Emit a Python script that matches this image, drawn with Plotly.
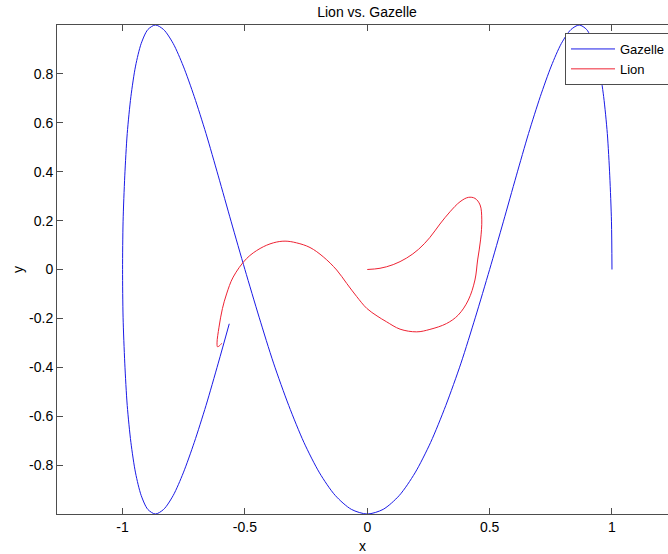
import plotly.graph_objects as go

# Gazelle path
gazelle_x = [1.0, 0.998, 0.991, 0.981, 0.966, 0.947, 0.924, 0.897, 0.866, 0.832, 0.793, 0.752,
             0.707, 0.659, 0.609, 0.556, 0.5, 0.442, 0.383, 0.321, 0.259, 0.195, 0.131, 0.065,
             0.0, -0.065, -0.131, -0.195, -0.259, -0.321, -0.383, -0.442, -0.5, -0.556,
             -0.609, -0.659, -0.707, -0.752, -0.793, -0.832, -0.866, -0.897, -0.924, -0.947,
             -0.966, -0.981, -0.991, -0.998, -1.0, -0.998, -0.991, -0.981, -0.966, -0.947,
             -0.924, -0.897, -0.866, -0.832, -0.793, -0.752, -0.707, -0.659, -0.609, -0.564]
gazelle_y = [0.0, 0.195, 0.383, 0.556, 0.707, 0.832, 0.924, 0.981, 1.0, 0.981, 0.924, 0.832,
             0.707, 0.556, 0.383, 0.195, 0.0, -0.195, -0.383, -0.556, -0.707, -0.832, -0.924,
             -0.981, -1.0, -0.981, -0.924, -0.832, -0.707, -0.556, -0.383, -0.195, 0.0, 0.195,
             0.383, 0.556, 0.707, 0.832, 0.924, 0.981, 1.0, 0.981, 0.924, 0.832,
             0.707, 0.556, 0.383, 0.195, 0.0, -0.195, -0.383, -0.556, -0.707, -0.832,
             -0.924, -0.981, -1.0, -0.981, -0.924, -0.832, -0.707, -0.556, -0.383, -0.222]

# Lion path
lion_x = [0.0, 0.052, 0.106, 0.161, 0.210, 0.255, 0.297, 0.338, 0.379, 0.413, 0.440, 0.461,
          0.468, 0.463, 0.451, 0.440, 0.413, 0.372, 0.324, 0.256, 0.202, 0.134, 0.079, 0.040,
          -0.002, -0.043, -0.084, -0.125, -0.180, -0.234, -0.289, -0.336, -0.384, -0.438,
          -0.493, -0.548, -0.575, -0.592, -0.606, -0.614, -0.612, -0.602, -0.595]
lion_y = [0.0, 0.005, 0.020, 0.047, 0.083, 0.130, 0.186, 0.236, 0.277, 0.295, 0.291, 0.264,
          0.203, 0.121, 0.039, -0.043, -0.125, -0.186, -0.221, -0.245, -0.255, -0.244, -0.214,
          -0.190, -0.159, -0.111, -0.057, -0.002, 0.052, 0.090, 0.109, 0.116, 0.109, 0.086,
          0.045, -0.031, -0.100, -0.160, -0.236, -0.300, -0.316, -0.310, -0.302]

x_ticks = [-1, -0.5, 0, 0.5, 1]
x_ticklabels = ["-1", "-0.5", "0", "0.5", "1"]
y_ticks = [-0.8, -0.6, -0.4, -0.2, 0, 0.2, 0.4, 0.6, 0.8]
y_ticklabels = ["-0.8", "-0.6", "-0.4", "-0.2", "0", "0.2", "0.4", "0.6", "0.8"]

FONT = "Liberation Sans, Arial, sans-serif"
AX = "#4d4d4d"

fig = go.Figure()
fig.add_trace(go.Scatter(x=gazelle_x, y=gazelle_y, mode="lines", name="Gazelle",
                         line=dict(color="#1a1ae6", width=1, shape="spline", smoothing=0.8)))
fig.add_trace(go.Scatter(x=lion_x, y=lion_y, mode="lines", name="Lion",
                         line=dict(color="#ee2233", width=1, shape="spline", smoothing=1)))

fig.update_layout(
    width=668, height=554,
    margin=dict(l=57, r=0, t=25, b=40, autoexpand=False),
    paper_bgcolor="white", plot_bgcolor="white",
    font=dict(family=FONT, size=14, color="black"),
    title=dict(text="Lion vs. Gazelle", x=0.5074, xref="paper", xanchor="center",
               y=1 - 12 / 554, yref="container", yanchor="middle",
               font=dict(family=FONT, size=14, color="black")),
    showlegend=True,
    legend=dict(x=(565 - 57) / 611, y=(514 - 33) / 489, xanchor="left", yanchor="top",
                xref="paper", yref="paper",
                bgcolor="white", bordercolor=AX, borderwidth=1,
                font=dict(family=FONT, size=13, color="black"),
                itemwidth=44, tracegroupgap=0),
)
fig.update_xaxes(range=[-1.268, 1.229], tickmode="array", tickvals=x_ticks, ticktext=x_ticklabels,
                 ticks="inside", ticklen=6, tickcolor=AX, showline=True, linecolor=AX, linewidth=1,
                 mirror="ticks", showgrid=False, zeroline=False,
                 title=dict(text="x", standoff=8, font=dict(family=FONT, size=14)))
fig.update_yaxes(range=[-1.0, 1.0], tickmode="array", tickvals=y_ticks, ticktext=y_ticklabels,
                 ticks="inside", ticklen=6, tickcolor=AX, showline=True, linecolor=AX, linewidth=1,
                 mirror=False, showgrid=False, zeroline=False,
                 title=dict(text="y", standoff=2, font=dict(family=FONT, size=14)))

fig.write_html("out.html")
